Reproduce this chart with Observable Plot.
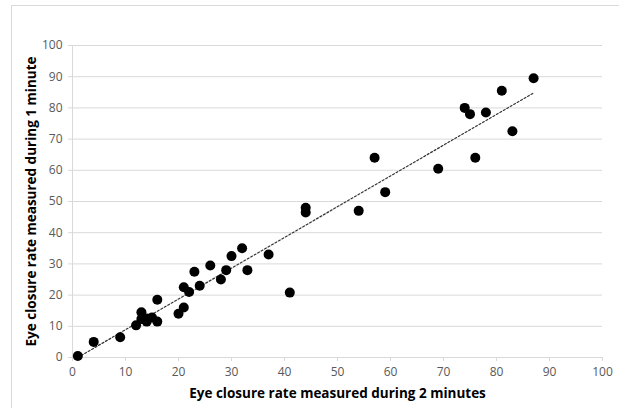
<!DOCTYPE html>
<html>
<head>
<meta charset="utf-8">
<script src="https://cdn.jsdelivr.net/npm/d3@7"></script>
<script src="https://cdn.jsdelivr.net/npm/@observablehq/plot@0.6"></script>
<style>
  html, body { margin: 0; padding: 0; background: #fff; }
  #wrap { position: relative; width: 619px; height: 408px; overflow: hidden; }
  #border { position: absolute; left: 11px; top: 5px; width: 700px; height: 500px;
            border-left: 1px solid #d9d9d9; border-top: 1px solid #d9d9d9; pointer-events: none; }
</style>
</head>
<body>
<div id="wrap"><div id="border"></div></div>
<script>
const xTitle = "Eye closure rate measured during 2 minutes";
const yTitle = "Eye closure rate measured during 1 minute";
const ticks = [0, 10, 20, 30, 40, 50, 60, 70, 80, 90, 100];
const rate2min = [1, 4, 9, 12, 13, 13, 14, 15, 14, 16, 16, 20, 21, 21, 22, 24, 23, 26, 28, 29, 30, 32, 33, 37, 41, 44, 44, 54, 57, 59, 69, 74, 75, 76, 78, 81, 83, 87];
const rate1min = [0.5, 5, 6.5, 10.3, 14.5, 12.3, 12.5, 12.8, 11.5, 11.5, 18.5, 14, 16, 22.5, 21, 23, 27.5, 29.5, 25, 28, 32.5, 35, 28, 33, 20.8, 48, 46.5, 47, 64, 53, 60.5, 80, 78, 64, 78.5, 85.5, 72.5, 89.5];

const data = rate2min.map((x, i) => ({x, y: rate1min[i]}));
const font = "'Open Sans', 'DejaVu Sans', sans-serif";

const chart = Plot.plot({
  width: 619,
  height: 408,
  marginLeft: 72,
  marginRight: 17,
  marginTop: 45,
  marginBottom: 51,
  style: {fontFamily: font, background: "transparent", overflow: "visible"},
  x: {domain: [0, 100]},
  y: {domain: [0, 100]},
  marks: [
    Plot.gridY(ticks, {stroke: "#d9d9d9", strokeOpacity: 1, strokeWidth: 1}),
    Plot.ruleX([0], {stroke: "#d9d9d9", strokeWidth: 1}),
    Plot.ruleY([0], {stroke: "#d9d9d9", strokeWidth: 1}),
    Plot.axisY(ticks, {tickSize: 4, tickPadding: 6, stroke: "#d9d9d9", color: "#595959", fontSize: 12, label: null}),
    Plot.axisX(ticks, {tickSize: 4, tickPadding: 6, stroke: "#d9d9d9", color: "#595959", fontSize: 12, label: null}),
    Plot.linearRegressionY(data, {x: "x", y: "y", ci: 0, stroke: "#333", strokeWidth: 1.2, strokeDasharray: "2,2"}),
    Plot.dot(data, {x: "x", y: "y", r: 5, fill: "#000", stroke: "none"}),
    Plot.text([xTitle], {frameAnchor: "bottom", dy: 40, fontWeight: "bold", fontSize: 13.5, fill: "#000"}),
    Plot.text([yTitle], {frameAnchor: "left", dx: -41, rotate: -90, textAnchor: "middle", fontWeight: "bold", fontSize: 13.5, fill: "#000"})
  ]
});
document.getElementById("wrap").appendChild(chart);
chart.style.position = "absolute";
chart.style.left = "0";
chart.style.top = "0";
</script>
</body>
</html>
